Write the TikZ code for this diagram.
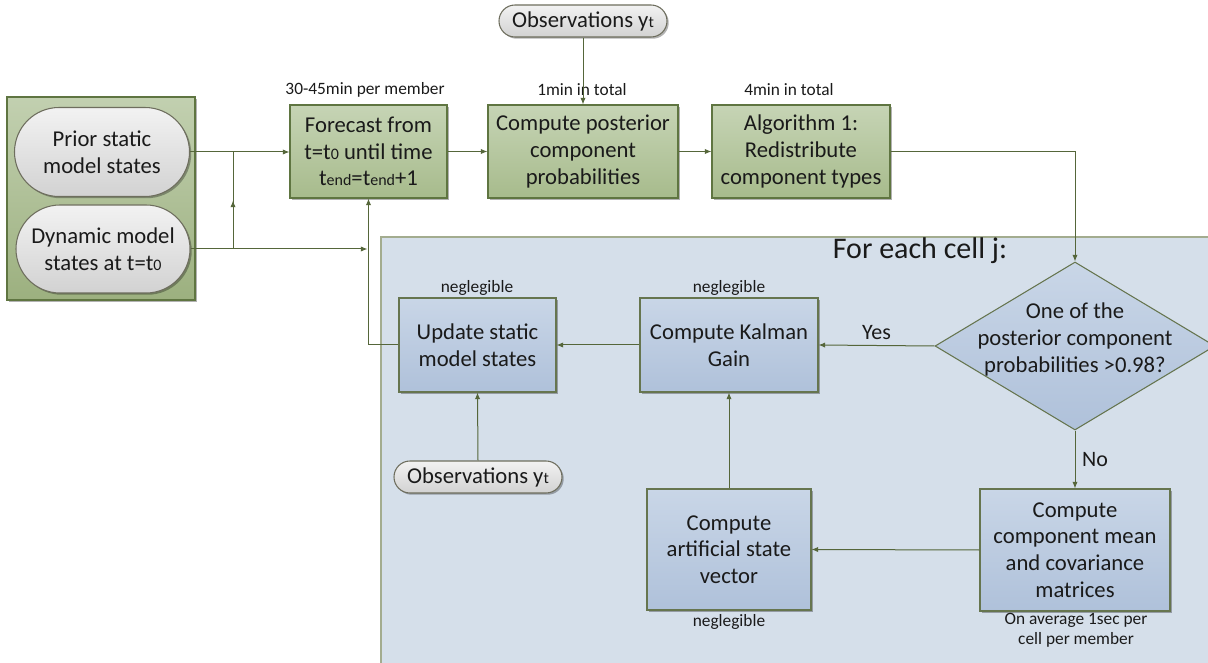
\documentclass[tikz,border=0pt]{standalone}
\usepackage{fontspec}
\setmainfont{Carlito}
\usetikzlibrary{shapes.geometric,shapes.misc,arrows.meta,shadows,calc,decorations.markings}
\definecolor{txtc}{HTML}{1A1A1A}
\definecolor{gtop}{HTML}{C6D4B5}
\definecolor{gbot}{HTML}{A7BB8C}
\definecolor{otop}{HTML}{C2D0B0}
\definecolor{obot}{HTML}{9CB07F}
\definecolor{gborder}{HTML}{5F7541}
\definecolor{btop}{HTML}{C9D6E7}
\definecolor{bbot}{HTML}{AFC1DA}
\definecolor{bborder}{HTML}{66754F}
\definecolor{rfill}{HTML}{D5DFEA}
\definecolor{rborder}{HTML}{A3AC8F}
\definecolor{ptop}{HTML}{F2F2F2}
\definecolor{pbot}{HTML}{D2D2D2}
\definecolor{pborder}{HTML}{6E6E5E}
\definecolor{lcol}{HTML}{55663A}
\newcommand{\sm}[1]{{\fontsize{12}{12}\selectfont #1}}
\begin{document}
\begin{tikzpicture}[x=0.75pt,y=-0.75pt,
 txt/.style={font=\fontsize{17}{20}\selectfont, text=txtc, align=center},
 lbl/.style={font=\fontsize{13}{15}\selectfont, text=txtc, align=center},
 shd/.style={drop shadow={shadow xshift=1.3pt,shadow yshift=-1.3pt,opacity=0.3,fill=black}},
 gbox/.style={txt, shd, rectangle, draw=gborder, line width=0.8pt, top color=gtop, bottom color=gbot, inner sep=0pt},
 obox/.style={shd, rectangle, draw=gborder, line width=0.8pt, top color=otop, bottom color=obot, inner sep=0pt},
 bbox/.style={txt, shd, rectangle, draw=bborder, line width=0.8pt, top color=btop, bottom color=bbot, inner sep=0pt},
 pill/.style={txt, shd, rounded rectangle, draw=pborder, line width=0.8pt, top color=ptop, bottom color=pbot, inner sep=0pt},
 arr/.style={draw=lcol, line width=0.75pt, -{Latex[length=5pt,width=4pt]}},
 ln/.style={draw=lcol, line width=0.75pt},
 midarr/.style={postaction={decorate}, decoration={markings, mark=at position 0.5 with {\arrow[lcol]{Latex[length=5pt,width=4pt]}}}},
]
\useasboundingbox (0,0) rectangle (1208,663);

% blue region
\node[draw=rborder, fill=rfill, line width=0.8pt, minimum width=625.5pt, minimum height=324.75pt, inner sep=0pt] (region) at (798,453.5) {};
\node[font=\fontsize{22.5}{25}\selectfont, text=txtc] (title) at (920,251) {For each cell j:};

% left group
\node[obox, minimum width=141pt, minimum height=152.25pt] (grp) at (101,198.5) {};
\node[pill, minimum width=131.25pt, minimum height=66.75pt] (prior) at (102,152) {Prior static\\model states};
\node[pill, minimum width=130.5pt, minimum height=66pt] (dyn) at (103,249) {Dynamic model\\states at t=t\sm{0}};

% top row
\node[gbox, minimum width=117.75pt, minimum height=69.75pt] (fc) at (368.5,151.5) {Forecast from\\t=t\sm{0} until time\\t\sm{end}=t\sm{end}+1};
\node[gbox, minimum width=142.5pt, minimum height=69.75pt] (post) at (583,151.5) {Compute posterior\\component\\probabilities};
\node[gbox, minimum width=133.5pt, minimum height=69.75pt] (alg) at (801,151.5) {Algorithm 1:\\Redistribute\\component types};
\node[pill, minimum width=126pt, minimum height=24pt] (obs1) at (583,21) {Observations y\sm{t}};

\node[lbl] (l1) at (365,90) {30-45min per member};
\node[lbl] (l2) at (582,90) {1min in total};
\node[lbl] (l3) at (789,90) {4min in total};

% inner boxes
\node[diamond, draw=bborder, line width=0.8pt, top color=btop, bottom color=bbot, minimum width=210pt, minimum height=126pt, inner sep=0pt, txt] (dec) at (1075,346)
 {\makebox[0pt]{\smash{\begin{tabular}{@{}c@{}}One of the\\posterior component\\probabilities >0.98?\end{tabular}}}};
\node[bbox, minimum width=133.5pt, minimum height=70.5pt] (kal) at (729,345) {Compute Kalman\\Gain};
\node[bbox, minimum width=117.75pt, minimum height=70.5pt] (upd) at (477.5,345) {Update static\\model states};
\node[pill, minimum width=126pt, minimum height=24pt] (obs2) at (478,477) {Observations y\sm{t}};
\node[bbox, minimum width=123pt, minimum height=90.75pt] (art) at (729,549.5) {Compute\\artificial state\\vector};
\node[bbox, minimum width=142.5pt, minimum height=91.5pt] (comp) at (1075,550) {Compute\\component mean\\and covariance\\matrices};

\node[lbl] (n1) at (477,288) {neglegible};
\node[lbl] (n2) at (729,288) {neglegible};
\node[lbl] (n3) at (729,622) {neglegible};
\node[lbl] (n4) at (1076,630) {On average 1sec per\\cell per member};

% connectors
\coordinate (jtop) at (233,152);
\coordinate (jbot) at (233,249);
\draw[arr] (prior.east) -- (fc.west |- prior.east);
\draw[ln] (dyn.east) -- (jbot);
\draw[ln, midarr] (jbot) -- (jtop);
\draw[arr] (jbot) -- ($(fc.south |- jbot)+(-1,0)$);
\draw[arr] (upd.west) -| (fc.south);
\draw[arr] (obs1.south) -- (post.north);
\draw[arr] (fc.east) -- (post.west);
\draw[arr] (post.east) -- (alg.west);
\draw[arr] (alg.east) -| (dec.north);
\draw[arr] (dec.west) -- node[above, font=\fontsize{16.5}{18}\selectfont, text=txtc, inner sep=4pt] {Yes} (kal.east);
\draw[arr] (kal.west) -- (upd.east);
\draw[arr] (obs2.north) -- (upd.south);
\draw[arr] (dec.south) -- node[right, font=\fontsize{16.5}{18}\selectfont, text=txtc, inner sep=5pt] {No} (comp.north);
\draw[arr] (comp.west) -- (art.east);
\draw[arr] (art.north) -- (kal.south);
\end{tikzpicture}
\end{document}
